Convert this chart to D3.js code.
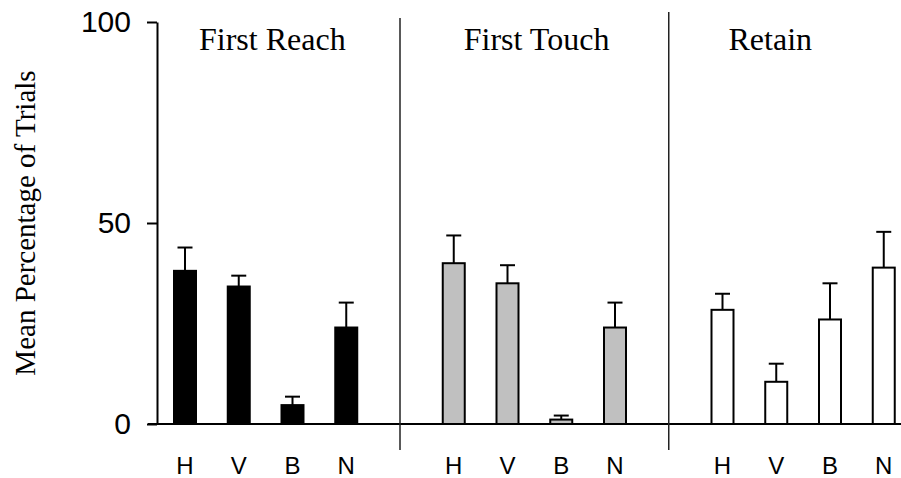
<!DOCTYPE html>
<html>
<head>
<meta charset="utf-8">
<script src="https://cdn.jsdelivr.net/npm/d3@7"></script>
<style>
  body { margin: 0; background: #fff; }
  svg { display: block; }
</style>
</head>
<body>
<div id="chart"></div>
<script>
// values
let groups = ['H', 'V', 'B', 'N']
let panels = ['First Reach', 'First Touch', 'Retain']
let reachMean = [38.1, 34.2, 4.7, 24.0]
let reachErr = [5.8, 2.7, 2.1, 6.2]
let touchMean = [40.0, 35.0, 1.1, 24.0]
let touchErr = [6.9, 4.5, 1.0, 6.2]
let retainMean = [28.4, 10.5, 26.0, 38.9]
let retainErr = [4.0, 4.5, 9.0, 8.9]
let yTicks = [0, 50, 100]
let fills = ['#000000', '#c0c0c0', '#ffffff']

let width = 901, height = 478

let svg = d3.select('#chart').append('svg')
  .attr('width', width)
  .attr('height', height)

let means = [reachMean, touchMean, retainMean]
let errs = [reachErr, touchErr, retainErr]

// one slot per bar plus a slot between panels for the divider
let slots = []
panels.forEach((p, pi) => {
  groups.forEach(g => slots.push(pi + '-' + g))
  if (pi < panels.length - 1) slots.push('gap' + pi)
})

let x = d3.scalePoint().domain(slots).range([185, 883.75])
let y = d3.scaleLinear().domain([0, 100]).range([424, 22])

let data = []
panels.forEach((p, pi) => {
  groups.forEach((g, gi) => {
    data.push({ key: pi + '-' + g, panel: pi, group: g, mean: means[pi][gi], err: errs[pi][gi] })
  })
})

// y axis
let yAxis = svg.append('g')
  .attr('transform', 'translate(157,0)')
  .call(d3.axisLeft(y).tickValues(yTicks).tickSize(10).tickPadding(16).tickSizeOuter(0))
yAxis.select('.domain').attr('stroke', '#000').attr('stroke-width', 2)
yAxis.selectAll('.tick line').attr('stroke', '#000').attr('stroke-width', 2)
yAxis.selectAll('.tick text')
  .style('font-family', 'Liberation Sans, Arial, sans-serif')
  .style('font-size', '30px')
  .attr('fill', '#000')

// x baseline
svg.append('line')
  .attr('x1', 148).attr('x2', width)
  .attr('y1', y(0)).attr('y2', y(0))
  .attr('stroke', '#000').attr('stroke-width', 2)

// panel dividers
svg.selectAll('.divider')
  .data(['gap0', 'gap1'])
  .enter().append('line')
  .attr('class', 'divider')
  .attr('x1', d => x(d)).attr('x2', d => x(d))
  .attr('y1', (d, i) => i === 0 ? 18 : 12)
  .attr('y2', 450)
  .attr('stroke', '#222').attr('stroke-width', 1.5)

// error bars (upper only)
let errG = svg.selectAll('.err')
  .data(data)
  .enter().append('g').attr('class', 'err')
errG.append('line')
  .attr('x1', d => x(d.key)).attr('x2', d => x(d.key))
  .attr('y1', d => y(d.mean)).attr('y2', d => y(d.mean + d.err))
  .attr('stroke', '#000').attr('stroke-width', 2)
errG.append('line')
  .attr('x1', d => x(d.key) - 7.5).attr('x2', d => x(d.key) + 7.5)
  .attr('y1', d => y(d.mean + d.err)).attr('y2', d => y(d.mean + d.err))
  .attr('stroke', '#000').attr('stroke-width', 2)

// bars
let barW = 22
svg.selectAll('.bar')
  .data(data)
  .enter().append('rect')
  .attr('class', 'bar')
  .attr('x', d => x(d.key) - barW / 2)
  .attr('width', barW)
  .attr('y', d => y(d.mean))
  .attr('height', d => y(0) - y(d.mean))
  .attr('fill', d => fills[d.panel])
  .attr('stroke', '#000')
  .attr('stroke-width', 2)

// category labels
svg.selectAll('.cat')
  .data(data)
  .enter().append('text')
  .attr('class', 'cat')
  .attr('x', d => x(d.key))
  .attr('y', 474)
  .attr('text-anchor', 'middle')
  .style('font-family', 'Liberation Sans, Arial, sans-serif')
  .style('font-size', '24px')
  .text(d => d.group)

// panel titles
let titleX = [x('0-H') + 14, x('1-H') + 10, x('2-H') + 6]
svg.selectAll('.title')
  .data(panels)
  .enter().append('text')
  .attr('class', 'title')
  .attr('x', (d, i) => titleX[i])
  .attr('y', 50)
  .style('font-family', 'Liberation Serif, Times New Roman, serif')
  .style('font-size', '32px')
  .text(d => d)

// y axis title
svg.append('text')
  .attr('transform', 'translate(35,' + y(50) + ') rotate(-90)')
  .attr('text-anchor', 'middle')
  .style('font-family', 'Liberation Serif, Times New Roman, serif')
  .style('font-size', '29px')
  .text('Mean Percentage of Trials')
</script>
</body>
</html>
